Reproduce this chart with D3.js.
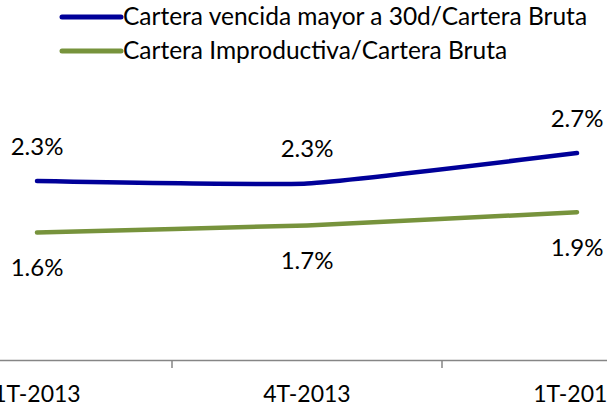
<!DOCTYPE html>
<html>
<head>
<meta charset="utf-8">
<script src="https://cdn.jsdelivr.net/npm/d3@7"></script>
<style>
  body { margin: 0; background: #fff; }
  text { font-family: Lato, "Open Sans", sans-serif; fill: #000; }
</style>
</head>
<body>
<svg id="chart" width="607" height="407"></svg>
<script>
// data
var categories = ["1T-2013", "4T-2013", "1T-2014"];
var seriesNames = ["Cartera vencida mayor a 30d/Cartera Bruta", "Cartera Improductiva/Cartera Bruta"];
var vencida = [2.30, 2.27, 2.66];
var improductiva = [1.64, 1.73, 1.90];
var seriesColors = ["#000099", "#77933C"];

var width = 607, height = 407;
var svg = d3.select("#chart");

var xScale = d3.scaleBand()
    .domain(categories)
    .range([-98, 712]);
var yScale = d3.scaleLinear()
    .domain([0, 3.5])
    .range([360, 87.7]);

var line = d3.line()
    .x((d, i) => xScale(categories[i]) + xScale.bandwidth() / 2)
    .y(d => yScale(d))
    .curve(d3.curveCardinal.tension(0.6));

// x axis
var xAxis = svg.append("g")
    .attr("transform", "translate(0," + yScale(0) + ")")
    .call(d3.axisBottom(xScale).tickSize(0).tickPadding(26).tickSizeOuter(0));
xAxis.select(".domain").attr("stroke", "#868686").attr("stroke-width", 1.5);
xAxis.selectAll(".tick text")
    .attr("font-size", 23)
    .attr("font-family", "Lato, sans-serif");

// category boundary ticks
xAxis.selectAll(".bound")
    .data(categories.slice(1))
    .enter().append("line")
    .attr("x1", d => xScale(d))
    .attr("x2", d => xScale(d))
    .attr("y1", 0)
    .attr("y2", 8)
    .attr("stroke", "#868686")
    .attr("stroke-width", 1.5);

var series = [vencida, improductiva];

series.forEach(function(vals, s) {
  svg.append("path")
      .datum(vals)
      .attr("fill", "none")
      .attr("stroke", seriesColors[s])
      .attr("stroke-width", 4.5)
      .attr("stroke-linecap", "round")
      .attr("stroke-linejoin", "round")
      .attr("d", line);

  svg.selectAll(".lbl" + s)
      .data(vals)
      .enter().append("text")
      .attr("x", (d, i) => xScale(categories[i]) + xScale.bandwidth() / 2)
      .attr("y", d => yScale(d) + (s === 0 ? -26 : 44))
      .attr("text-anchor", "middle")
      .attr("font-size", 24)
      .text(d => d3.format(".1f")(d) + "%");
});

// legend
var legend = svg.append("g");
seriesNames.forEach(function(name, s) {
  var ly = 17 + s * 34;
  legend.append("line")
      .attr("x1", 62).attr("x2", 121)
      .attr("y1", ly).attr("y2", ly)
      .attr("stroke", seriesColors[s])
      .attr("stroke-width", 5)
      .attr("stroke-linecap", "round");
  legend.append("text")
      .attr("x", 123)
      .attr("y", ly + 8)
      .attr("font-size", 24.5)
      .text(name);
});
</script>
</body>
</html>
